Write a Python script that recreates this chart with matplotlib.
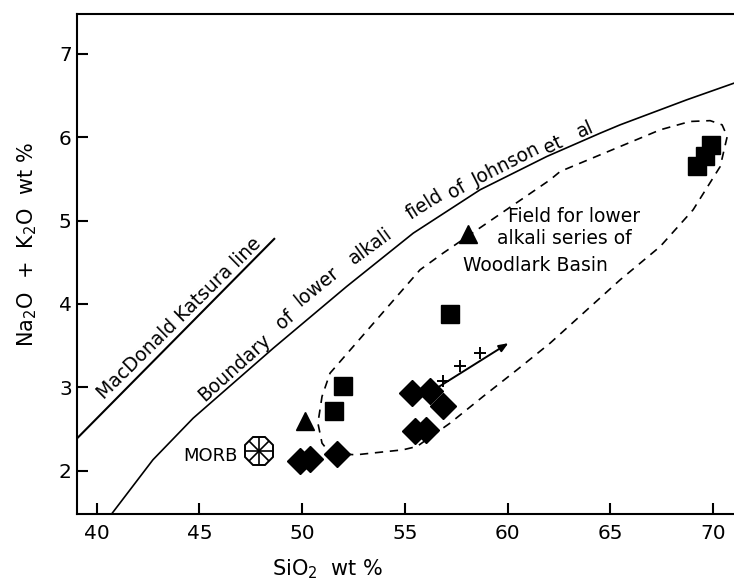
"""
Na2O + K2O vs SiO2 plot: Woodlark Basin lower alkali series.
"""
import matplotlib
matplotlib.use("Agg")
import matplotlib.pyplot as plt

plt.rcParams["font.family"] = ["DejaVu Sans"]
plt.rcParams["mathtext.default"] = "regular"

# ---------- data (SiO2 wt %, Na2O + K2O wt %) ----------
SQ_SIO2 = [57.20, 51.98, 51.57, 69.91, 69.62, 69.22]
SQ_ALK = [3.88, 3.01, 2.71, 5.91, 5.77, 5.65]

DIA_SIO2 = [49.90, 50.40, 51.70, 55.35, 56.23, 56.86, 55.50, 56.03]
DIA_ALK = [2.12, 2.14, 2.20, 2.93, 2.95, 2.77, 2.47, 2.49]

TRI_SIO2 = [50.15, 58.09]
TRI_ALK = [2.59, 4.84]

PLUS_SIO2 = [56.87, 57.69, 58.66]
PLUS_ALK = [3.07, 3.25, 3.41]

ARROW_FROM = (56.55, 2.99)
ARROW_TO = (60.04, 3.53)

MORB = (47.90, 2.24)

# MacDonald-Katsura line
MK_SIO2 = [39.06, 48.68]
MK_ALK = [2.39, 4.79]

# boundary of lower alkali field (Johnson et al)
JOHN_SIO2 = [40.73, 42.74, 44.70, 48.60, 52.17, 55.41, 58.66, 61.91, 64.51, 65.48, 68.72, 71.02]
JOHN_ALK = [1.48, 2.13, 2.63, 3.47, 4.21, 4.85, 5.37, 5.77, 6.05, 6.15, 6.45, 6.65]

# dashed field for lower alkali series of Woodlark Basin
FIELD_SIO2 = [51.36, 52.62, 54.91, 55.59, 57.20, 58.81, 60.46, 62.07, 65.48, 67.43,
              69.03, 70.35, 70.69, 70.44, 69.86, 68.88, 67.43, 62.56, 62.07, 56.86,
              55.74, 51.36, 50.97, 50.77, 50.97, 51.36]
FIELD_ALK = [2.21, 2.19, 2.25, 2.29, 2.57, 2.89, 3.21, 3.53, 4.29, 4.69,
             5.13, 5.65, 6.01, 6.15, 6.20, 6.19, 6.09, 5.59, 5.49, 4.61,
             4.41, 3.17, 2.89, 2.57, 2.33, 2.21]

# curved label along the Johnson boundary
BND_WORDS = ["Boundary", "of", "lower", "alkali", "field", "of", "Johnson", "et", "al"]
BND_X = [46.73, 49.17, 50.71, 53.31, 55.98, 57.53, 59.96, 62.21, 63.76]
BND_Y = [3.23, 3.81, 4.21, 4.69, 5.19, 5.37, 5.67, 5.91, 6.09]
BND_ROT = [42, 41, 39, 36, 32, 30, 27, 25, 24]

FIELD_LINES = ["Field for lower", "alkali series of", "Woodlark Basin"]
FIELD_LX = [60.02, 59.49, 57.83]
FIELD_LY = [5.05, 4.78, 4.46]

XTICKS = [40, 45, 50, 55, 60, 65, 70]
YTICKS = [2, 3, 4, 5, 6, 7]


def main():
    fig = plt.figure(figsize=(7.34, 5.85), dpi=100)
    ax = fig.add_axes([0.1053, 0.1214, 0.8947, 0.8547])
    ax.set_xlim(39.06, 71.02)
    ax.set_ylim(1.48, 7.48)

    # reference lines
    ax.plot(MK_SIO2, MK_ALK, color="black", lw=1.5, solid_capstyle="butt")
    ax.plot(JOHN_SIO2, JOHN_ALK, color="black", lw=1.2)
    ax.plot(FIELD_SIO2, FIELD_ALK, color="black", lw=1.2, ls=(0, (5, 4)))

    # samples
    ax.plot(SQ_SIO2, SQ_ALK, "s", ms=13.5, color="black", mec="black")
    ax.plot(DIA_SIO2, DIA_ALK, "D", ms=13.5, color="black", mec="black")
    ax.plot(TRI_SIO2, TRI_ALK, "^", ms=13, color="black", mec="black")
    ax.plot(PLUS_SIO2, PLUS_ALK, "+", ms=9, mew=1.4, color="black")
    ax.annotate("", xy=ARROW_TO, xytext=ARROW_FROM,
                arrowprops=dict(arrowstyle="-|>,head_length=0.55,head_width=0.22",
                                lw=1.4, color="black", shrinkA=0, shrinkB=0))

    # MORB symbol: open octagon with spokes
    ax.plot(*MORB, "8", ms=22, mfc="white", mec="black", mew=1.4)
    ax.plot(*MORB, "+", ms=20, mew=1.2, color="black")
    ax.plot(*MORB, "x", ms=14.5, mew=1.2, color="black")
    ax.text(MORB[0] - 1.05, MORB[1] - 0.06, "MORB", ha="right", va="center", fontsize=13)

    # annotations
    ax.text(44.01, 3.83, "MacDonald Katsura line", rotation=44.5, rotation_mode="anchor",
            ha="center", va="center", fontsize=13.5)
    for w, x, y, r in zip(BND_WORDS, BND_X, BND_Y, BND_ROT):
        ax.text(x, y, w, rotation=r, rotation_mode="anchor",
                ha="center", va="center", fontsize=13.5)
    for s, x, y in zip(FIELD_LINES, FIELD_LX, FIELD_LY):
        ax.text(x, y, s, ha="left", va="center", fontsize=13.5)

    # axes styling
    ax.set_xticks(XTICKS)
    ax.set_yticks(YTICKS)
    ax.tick_params(direction="in", length=8, width=1.5, labelsize=14.5)
    ax.tick_params(axis="x", pad=7)
    ax.tick_params(axis="y", pad=4)
    for side in ("left", "bottom", "top"):
        ax.spines[side].set_linewidth(1.5)
    ax.spines["right"].set_visible(False)

    ax.set_xlabel("SiO$_2$  wt %", fontsize=15)
    ax.set_ylabel("Na$_2$O  +  K$_2$O  wt %", fontsize=15)
    ax.xaxis.set_label_coords(0.382, -0.086)
    ax.yaxis.set_label_coords(-0.058, 0.538)

    fig.savefig("out.png", dpi=100)
    plt.close(fig)


if __name__ == "__main__":
    main()
